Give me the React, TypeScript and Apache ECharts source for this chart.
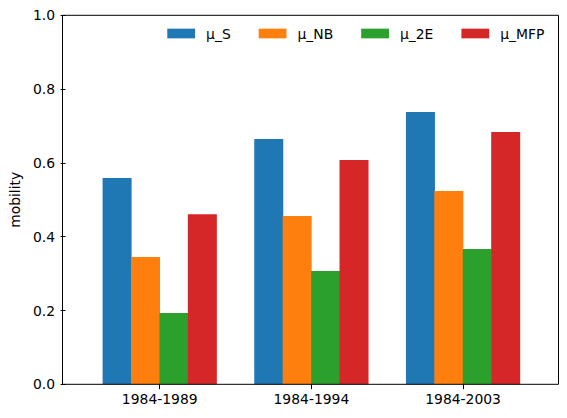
import React, { useEffect, useRef } from "react";
import * as echarts from "echarts";

const categories = ["1984-1989", "1984-1994", "1984-2003"];
const seriesNames = ["μ_S", "μ_NB", "μ_2E", "μ_MFP"];
const muS = [0.559, 0.665, 0.738];
const muNB = [0.345, 0.456, 0.524];
const mu2E = [0.193, 0.307, 0.367];
const muMFP = [0.461, 0.608, 0.684];
const yTicks = [0, 0.2, 0.4, 0.6, 0.8, 1.0];
const colors = ["#1f77b4", "#ff7f0e", "#2ca02c", "#d62728"];

const FONT = "DejaVu Sans";
const FS = 13.9;

export default function App() {
  const ref = useRef<HTMLDivElement>(null);
  useEffect(() => {
    if (!ref.current) return;
    const chart = echarts.init(ref.current, undefined, { renderer: "svg" });
    const values = [muS, muNB, mu2E, muMFP];
    const plotL = 62.5, plotR = 558.5, plotT = 15.3, plotB = 384.3;
    const gridLeft = 80.9, gridWidth = 458;
    chart.setOption({
      animation: false,
      backgroundColor: "#fff",
      textStyle: { fontFamily: FONT },
      grid: {
        left: gridLeft,
        width: gridWidth,
        top: plotT,
        height: plotB - plotT,
        containLabel: false,
      },
      legend: {
        data: seriesNames,
        left: 167.3,
        top: 25.5,
        padding: 0,
        itemWidth: 27.8,
        itemHeight: 9.7,
        itemGap: 28,
        icon: "rect",
        formatter: (name: string) => `{p|}${name}`,
        textStyle: {
          fontFamily: FONT,
          fontSize: FS,
          color: "#000",
          lineHeight: 16,
          rich: { p: { width: 6, fontSize: FS, lineHeight: 16 } },
        },
      },
      xAxis: {
        type: "category",
        data: categories,
        axisLine: { show: false },
        axisTick: { show: true, alignWithLabel: true, length: 4.9, lineStyle: { color: "#000", width: 1 } },
        axisLabel: { fontFamily: FONT, fontSize: FS, color: "#000", margin: 8 },
        splitLine: { show: false },
      },
      yAxis: {
        type: "value",
        min: 0,
        max: 1,
        interval: 0.2,
        offset: gridLeft - plotL,
        name: "mobility",
        nameLocation: "middle",
        nameRotate: 90,
        nameGap: 37,
        nameTextStyle: { fontFamily: FONT, fontSize: FS, color: "#000" },
        axisLine: { show: false },
        axisTick: { show: true, length: 4.9, lineStyle: { color: "#000", width: 1 } },
        axisLabel: {
          fontFamily: FONT,
          fontSize: FS,
          color: "#000",
          margin: 10.5,
          formatter: (v: number) => {
            const t = yTicks.find((x) => Math.abs(x - v) < 1e-9);
            return (t !== undefined ? t : v).toFixed(1);
          },
        },
        splitLine: { show: false },
      },
      series: seriesNames.map((name, i) => ({
        name,
        type: "bar",
        data: values[i],
        barWidth: 29,
        barGap: "-2%",
        itemStyle: { color: colors[i] },
      })),
      graphic: [
        {
          type: "rect",
          z: 100,
          shape: { x: plotL, y: plotT, width: plotR - plotL, height: plotB - plotT },
          style: { fill: "none", stroke: "#000", lineWidth: 1 },
          silent: true,
        },
      ],
    });
    return () => chart.dispose();
  }, []);
  return (
    <div
      ref={ref}
      style={{ position: "absolute", left: 0, top: 0, width: 567, height: 418 }}
    />
  );
}
